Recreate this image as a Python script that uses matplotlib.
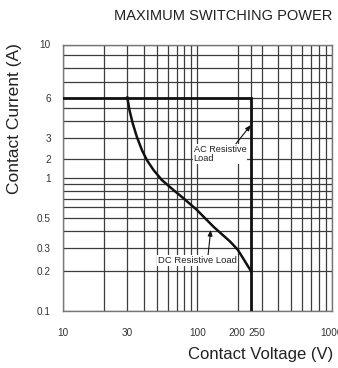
import numpy as np
import matplotlib
matplotlib.use("Agg")
import matplotlib.pyplot as plt
import matplotlib.transforms as mtransforms

plt.rcParams['font.family'] = ['Liberation Sans', 'DejaVu Sans']

# ---- data ----
title = "MAXIMUM SWITCHING POWER"
x_label = "Contact Voltage (V)"
y_label = "Contact Current (A)"

x_tick_values = [10, 30, 100, 200, 250, 1000]
x_tick_labels = ["10", "30", "100", "200", "250", "1000"]
y_tick_values = [0.1, 0.2, 0.3, 0.5, 1, 2, 3, 6, 10]
y_tick_labels = ["0.1", "0.2", "0.3", "0.5", "1", "2", "3", "6", "10"]

x_grid_values = [20, 40, 50, 60, 70, 80, 90, 300, 400, 500, 600, 700, 800, 900]
y_grid_values = [0.4, 0.6, 0.7, 0.8, 0.9, 4, 5, 7, 8, 9]

# AC resistive load limit (rectangle)
ac_voltage = [10, 250, 250]
ac_current = [6, 6, 0.1]

# DC resistive load curve
dc_voltage = [30.0, 31.1, 32.9, 35.3, 38.5, 41.9, 47.0, 54.2, 66.2, 78.6, 99.0,
              131.6, 175.4, 200, 250]
dc_current = [6.0, 4.86, 3.88, 3.09, 2.38, 1.90, 1.33, 0.966, 0.812, 0.704, 0.575,
              0.430, 0.332, 0.288, 0.2]

# chart's own (non-uniform) current axis: label value -> relative height
y_axis_anchor_values = [0.1, 1, 2, 3, 6, 10]
y_axis_anchor_heights = [0.0, 0.4991, 0.5722, 0.6473, 0.8011, 1.0]

_lv = np.log10(y_axis_anchor_values)
_h = np.array(y_axis_anchor_heights)


def y_forward(v):
    v = np.maximum(np.asarray(v, dtype=float), 1e-12)
    lv = np.log10(v)
    out = np.interp(lv, _lv, _h)
    s0 = (_h[1] - _h[0]) / (_lv[1] - _lv[0])
    s1 = (_h[-1] - _h[-2]) / (_lv[-1] - _lv[-2])
    out = np.where(lv < _lv[0], _h[0] + (lv - _lv[0]) * s0, out)
    out = np.where(lv > _lv[-1], _h[-1] + (lv - _lv[-1]) * s1, out)
    return out


def y_inverse(h):
    h = np.asarray(h, dtype=float)
    lv = np.interp(h, _h, _lv)
    s0 = (_lv[1] - _lv[0]) / (_h[1] - _h[0])
    s1 = (_lv[-1] - _lv[-2]) / (_h[-1] - _h[-2])
    lv = np.where(h < _h[0], _lv[0] + (h - _h[0]) * s0, lv)
    lv = np.where(h > _h[-1], _lv[-1] + (h - _h[-1]) * s1, lv)
    return 10 ** lv


fig = plt.figure(figsize=(3.38, 3.68), dpi=100)
ax = fig.add_axes([63.3 / 338, 1 - 311 / 368, (331.7 - 63.3) / 338, (311 - 44.5) / 368])

ax.set_xscale('log')
ax.set_yscale('function', functions=(y_forward, y_inverse))
ax.set_xlim(10, 1000)
ax.set_ylim(0.1, 10)

ax.set_xticks(x_tick_values)
ax.set_xticklabels(x_tick_labels)
ax.set_xticks(x_grid_values, minor=True)
ax.set_xticklabels([], minor=True)
ax.set_yticks(y_tick_values)
ax.set_yticklabels(y_tick_labels)
ax.set_yticks(y_grid_values, minor=True)
ax.set_yticklabels([], minor=True)

ax.grid(True, which='both', color='#3c3c3c', linewidth=0.9)
ax.set_axisbelow(True)
ax.tick_params(which='both', length=0)
ax.tick_params(axis='x', pad=12, labelsize=7.2, colors='#333333')
ax.tick_params(axis='y', pad=9, labelsize=7.2, colors='#333333')

# nudge the crowded "200" / "250" labels apart
for lbl in ax.get_xticklabels():
    if lbl.get_text() == "250":
        lbl.set_transform(lbl.get_transform() +
                          mtransforms.ScaledTranslation(6 / 100, 0, fig.dpi_scale_trans))
    elif lbl.get_text() == "200":
        lbl.set_transform(lbl.get_transform() +
                          mtransforms.ScaledTranslation(-1 / 100, 0, fig.dpi_scale_trans))

for sp in ax.spines.values():
    sp.set_color('#777777')
    sp.set_linewidth(1.0)

ax.plot(ac_voltage, ac_current, color='#111111', linewidth=2.0,
        solid_joinstyle='miter', zorder=4)
ax.plot(dc_voltage, dc_current, color='#111111', linewidth=1.8, zorder=4)

ax.annotate("AC Resistive\nLoad", xy=(250, 3.77), xytext=(93.5, 2.19),
            fontsize=6.6, color='#222222', ha='left', va='center', linespacing=1.1,
            bbox=dict(boxstyle='square,pad=0.1', fc='white', ec='none'),
            arrowprops=dict(arrowstyle='-|>,head_length=0.5,head_width=0.2',
                            color='#111111', lw=0.8, shrinkA=0, shrinkB=0,
                            relpos=(0.76, 0.9)), zorder=3)

ax.annotate("DC Resistive Load", xy=(125.5, 0.407), xytext=(51.0, 0.239),
            fontsize=6.8, color='#222222', ha='left', va='center',
            bbox=dict(boxstyle='square,pad=0.1', fc='white', ec='none'),
            arrowprops=dict(arrowstyle='-|>,head_length=0.5,head_width=0.2',
                            color='#111111', lw=0.8, shrinkA=0, shrinkB=0,
                            relpos=(0.63, 1.0)), zorder=3)

fig.text(332 / 338, 1 - 16 / 368, title, fontsize=10.5, ha='right', va='center', color='#222222')
fig.text(333 / 338, 1 - 354 / 368, x_label, fontsize=12, ha='right', va='center', color='#222222')
fig.text(15 / 338, 1 - 119 / 368, y_label, fontsize=12.5, ha='center', va='center',
         rotation=90, color='#222222')

fig.savefig("out.png", dpi=100)
